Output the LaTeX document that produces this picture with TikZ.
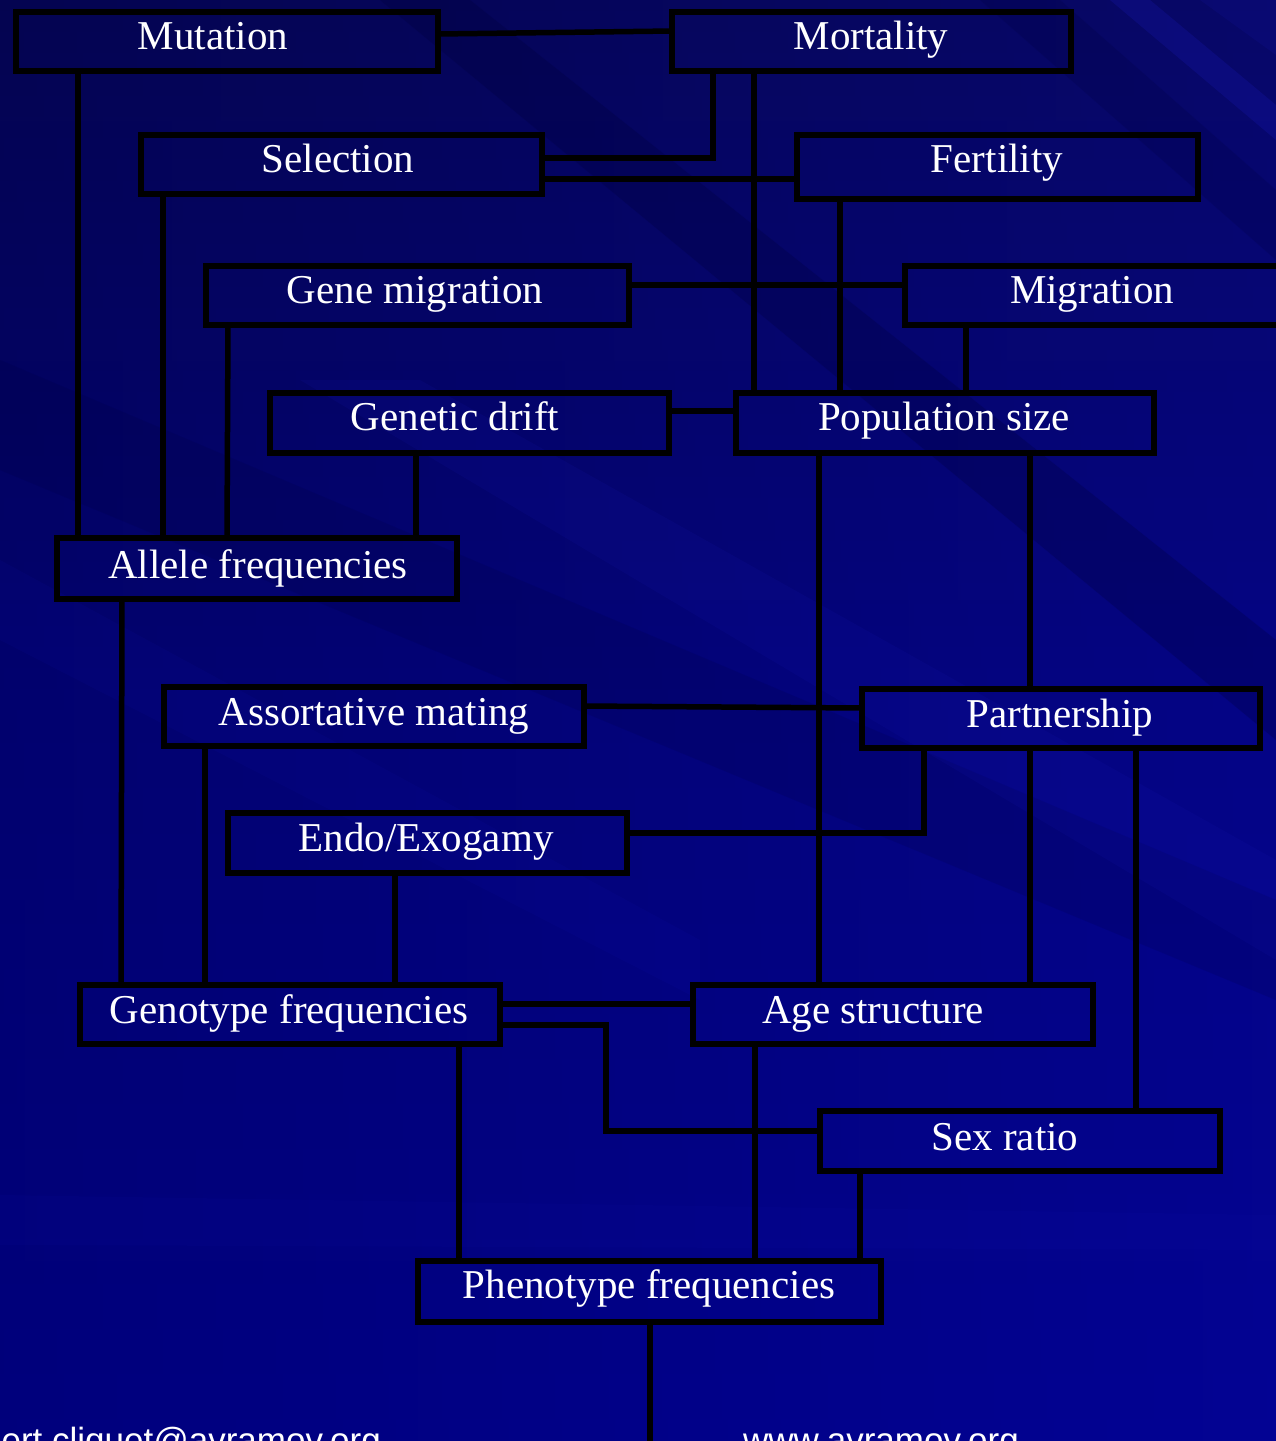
\documentclass[tikz,border=0pt]{standalone}
\usepackage{fontspec}
\setmainfont{Liberation Serif}
\setsansfont{Liberation Sans}
\usetikzlibrary{calc}

\definecolor{navytop}{HTML}{05055C}
\definecolor{navymid}{HTML}{02027E}
\definecolor{navybot}{HTML}{00008E}
\definecolor{streaklight}{HTML}{1A1AC0}
\definecolor{streakdark}{HTML}{000038}

% box given by its left, top, right and bottom border lines
\newcommand\factorbox[5]{%
  \node[box, minimum width={#4-#2}, minimum height={#5-#3}]
    (#1) at ({(#2+#4)/2},{(#3+#5)/2}) {};}

\begin{document}
\begin{tikzpicture}[x=1pt,y=-1pt,
  box/.style={draw=black, line width=5.5pt, rectangle, inner sep=0pt, outer sep=0pt},
  lbl/.style={text=white, font=\fontsize{41}{41}\selectfont, anchor=base, inner sep=0pt},
  wire/.style={draw=black, line width=5.5pt},
  foot/.style={text=white, font=\sffamily\fontsize{35}{35}\selectfont, inner sep=0pt}]

\useasboundingbox (0,0) rectangle (1276,1441);

% background: navy gradient with soft diagonal streaks
\begin{scope}
  \clip (0,0) rectangle (1276,1441);
  \shade[top color=navytop, bottom color=navybot, middle color=navymid] (0,0) rectangle (1276,1441);
  \shade[left color=black, right color=streaklight, opacity=0.12] (0,0) rectangle (1276,1441);
  \fill[streakdark, opacity=0.25] (380,0) -- (470,0) -- (1276,640) -- (1276,740) -- cycle;
  \fill[streakdark, opacity=0.18] (980,0) -- (1060,0) -- (1276,190) -- (1276,260) -- cycle;
  \fill[streaklight, opacity=0.22] (1110,0) -- (1150,0) -- (1276,105) -- (1276,140) -- cycle;
  \fill[streaklight, opacity=0.12] (1200,0) -- (1276,0) -- (1276,55) -- cycle;
  \fill[streakdark, opacity=0.15] (0,360) -- (0,470) -- (1276,1000) -- (1276,900) -- cycle;
  \fill[streaklight, opacity=0.10] (300,380) -- (420,380) -- (1276,860) -- (1276,960) -- cycle;
  \fill[streaklight, opacity=0.08] (0,560) -- (0,640) -- (700,1000) -- (700,940) -- cycle;
  \fill[streaklight, opacity=0.06] (0,1195) -- (1276,1215) -- (1276,1250) -- (0,1245) -- cycle;
\end{scope}

% factor boxes
\factorbox{mut}{16}{12}{438}{71}
\factorbox{mort}{672}{12}{1071}{71}
\factorbox{sel}{141}{135}{542}{194}
\factorbox{fert}{797}{135}{1198}{199}
\factorbox{gmig}{206}{266}{629}{325}
\factorbox{mig}{905}{266}{1285}{325}
\factorbox{drift}{270}{393}{669}{453}
\factorbox{pop}{736}{393}{1154}{453}
\factorbox{allele}{57}{538}{457}{599}
\factorbox{assort}{164}{687}{584}{746}
\factorbox{partner}{862}{689}{1260}{748}
\factorbox{endo}{228}{813}{627}{873}
\factorbox{geno}{80}{985}{500}{1044}
\factorbox{age}{693}{985}{1093}{1044}
\factorbox{sex}{820}{1111}{1220}{1171}
\factorbox{pheno}{418}{1261}{881}{1322}

% labels
\node[lbl] (mut-t) at (213,49) {Mutation};
\node[lbl] (mort-t) at (871,49) {Mortality};
\node[lbl] (sel-t) at (338,172) {Selection};
\node[lbl] (fert-t) at (997,172) {Fertility};
\node[lbl] (gmig-t) at (415,303) {Gene migration};
\node[lbl] (mig-t) at (1092,303) {Migration};
\node[lbl] (drift-t) at (455,430) {Genetic drift};
\node[lbl] (pop-t) at (944,430) {Population size};
\node[lbl] (allele-t) at (258,578) {Allele frequencies};
\node[lbl] (assort-t) at (374,725) {Assortative mating};
\node[lbl] (partner-t) at (1060,727) {Partnership};
\node[lbl] (endo-t) at (426,851) {Endo/Exogamy};
\node[lbl] (geno-t) at (289,1023) {Genotype frequencies};
\node[lbl] (age-t) at (873,1023) {Age structure};
\node[lbl] (sex-t) at (1005,1150) {Sex ratio};
\node[lbl] (pheno-t) at (649,1298) {Phenotype frequencies};

% connectors
\draw[wire] (mut.east |- 0,34) -- (mort.west |- 0,31);
\draw[wire] (mut.south -| 78,0) -- (allele.north -| 78,0);
\draw[wire] (mort.south -| 713,0) -- (713,158) -- (sel.east |- 0,158);
\draw[wire] (mort.south -| 754,0) -- (pop.north -| 754,0);
\draw[wire] (sel.east |- 0,179) -- (fert.west |- 0,179);
\draw[wire] (sel.south -| 163,0) -- (allele.north -| 163,0);
\draw[wire] (fert.south -| 840,0) -- (pop.north -| 840,0);
\draw[wire] (gmig.east |- 0,285) -- (mig.west |- 0,285);
\draw[wire] (gmig.south -| 228,0) -- (allele.north -| 227,0);
\draw[wire] (mig.south -| 966,0) -- (pop.north -| 966,0);
\draw[wire] (drift.east |- 0,411) -- (pop.west |- 0,411);
\draw[wire] (drift.south -| 416,0) -- (allele.north -| 416,0);
\draw[wire] (pop.south -| 819,0) -- (age.north -| 819,0);
\draw[wire] (pop.south -| 1030,0) -- (partner.north -| 1030,0);
\draw[wire] (allele.south -| 122,0) -- (geno.north -| 121,0);
\draw[wire] (assort.east |- 0,706) -- (partner.west |- 0,708);
\draw[wire] (assort.south -| 205,0) -- (geno.north -| 205,0);
\draw[wire] (partner.south -| 924,0) -- (924,833) -- (endo.east |- 0,833);
\draw[wire] (partner.south -| 1030,0) -- (age.north -| 1030,0);
\draw[wire] (partner.south -| 1136,0) -- (sex.north -| 1136,0);
\draw[wire] (endo.south -| 395,0) -- (geno.north -| 395,0);
\draw[wire] (geno.east |- 0,1004) -- (age.west |- 0,1004);
\draw[wire] (geno.east |- 0,1025) -- (606,1025) -- (606,1131) -- (sex.west |- 0,1131);
\draw[wire] (geno.south -| 459,0) -- (pheno.north -| 459,0);
\draw[wire] (age.south -| 755,0) -- (pheno.north -| 755,0);
\draw[wire] (sex.south -| 860,0) -- (pheno.north -| 860,0);
\coordinate (tail) at (650,1460);
\draw[wire] (pheno.south -| tail) -- (tail);

% footer, running off the lower edge
\begin{scope}
  \clip (0,0) rectangle (1276,1441);
  \node[foot, anchor=base east] (email) at (381,1452) {robert.cliquet@avramov.org};
  \node[foot, anchor=base west] (web) at (743,1452) {www.avramov.org};
\end{scope}

\end{tikzpicture}
\end{document}
